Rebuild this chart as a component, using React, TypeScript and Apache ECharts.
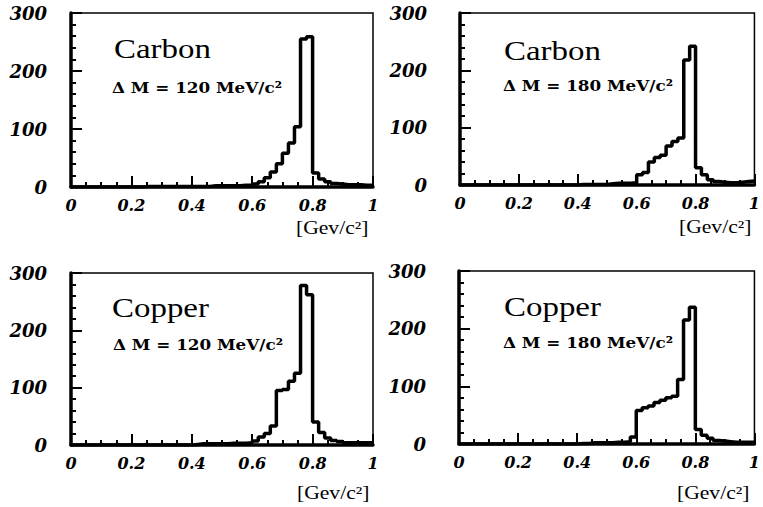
import React, { useEffect, useRef } from "react";
import * as echarts from "echarts";

// bin left edges: 0.00, 0.02, ..., 0.98 (50 bins of width 0.02)
const binWidth = 0.02;
const carbon120 = [
  0, 0, 0, 0, 0, 0, 0, 0, 0, 0,
  0, 0, 1, 1, 1, 1, 1, 1, 1, 1,
  1, 1, 1, 2, 2, 2, 2, 2, 3, 3,
  5, 9, 16, 26, 40, 58, 76, 104, 255, 259,
  24, 14, 9, 6, 5, 4, 4, 4, 3, 3,
];
const carbon180 = [
  0, 0, 0, 0, 0, 0, 0, 0, 0, 0,
  0, 0, 0, 0, 0, 0, 0, 0, 0, 0,
  1, 1, 1, 1, 1, 2, 3, 3, 3, 4,
  18, 22, 40, 48, 52, 68, 76, 82, 218, 242,
  30, 18, 9, 6, 5, 4, 4, 5, 6, 7,
];
const copper120 = [
  0, 0, 0, 0, 0, 0, 0, 0, 0, 0,
  0, 0, 0, 0, 0, 0, 0, 0, 0, 0,
  1, 2, 2, 2, 2, 2, 3, 3, 3, 4,
  7, 14, 20, 33, 95, 97, 111, 125, 278, 262,
  40, 22, 12, 8, 6, 4, 4, 4, 4, 4,
];
const copper180 = [
  0, 0, 0, 0, 0, 0, 0, 0, 0, 0,
  0, 0, 0, 0, 0, 0, 0, 0, 0, 0,
  1, 1, 2, 2, 2, 2, 3, 3, 4, 12,
  58, 63, 66, 72, 76, 80, 83, 112, 215, 237,
  25, 15, 10, 6, 5, 4, 3, 3, 3, 3,
];

const materials = ["Carbon", "Carbon", "Copper", "Copper"];
const deltaLabels = [
  "Δ M = 120 MeV/c²",
  "Δ M = 180 MeV/c²",
  "Δ M = 120 MeV/c²",
  "Δ M = 180 MeV/c²",
];
const unitLabel = "[Gev/c²]";
const histograms = [carbon120, carbon180, copper120, copper180];

const SERIF = "Liberation Serif";
const DSERIF = "DejaVu Serif";

const grids = [
  { left: 71, top: 13, width: 302, height: 174 },
  { left: 460, top: 13, width: 301, height: 172 },
  { left: 71, top: 273, width: 302, height: 172 },
  { left: 459, top: 271, width: 302, height: 173 },
];
const yLabelMargins = [24, 33, 24, 33];
const matPos = [
  [114, 49],
  [504, 51],
  [112, 308],
  [504, 307],
];
const deltaPos = [
  [112, 88],
  [503, 86],
  [113, 345],
  [503, 343],
];
const unitPos = [
  [296, 228],
  [679, 227],
  [297, 493],
  [677, 493],
];

function toSteps(vals: number[]) {
  const pts: number[][] = vals.map((v, i) => [+(i * binWidth).toFixed(2), v]);
  pts.push([1, vals[vals.length - 1]]);
  return pts;
}

export default function App() {
  const ref = useRef<HTMLDivElement>(null);
  useEffect(() => {
    if (!ref.current) return;
    const chart = echarts.init(ref.current, undefined, { renderer: "svg" });
    const graphic: any[] = [];
    for (let i = 0; i < 4; i++) {
      graphic.push({
        type: "text",
        x: matPos[i][0],
        y: matPos[i][1],
        scaleX: 1.22,
        style: {
          text: materials[i],
          fontFamily: SERIF,
          fontSize: 27,
          fill: "#000",
          verticalAlign: "middle",
          align: "left",
        },
      });
      graphic.push({
        type: "text",
        x: deltaPos[i][0],
        y: deltaPos[i][1],
        scaleX: 1.12,
        style: {
          text: deltaLabels[i],
          fontFamily: DSERIF,
          fontWeight: "bold",
          fontSize: 15,
          fill: "#000",
          verticalAlign: "middle",
          align: "left",
        },
      });
      graphic.push({
        type: "text",
        x: unitPos[i][0],
        y: unitPos[i][1],
        scaleX: 1.2,
        style: {
          text: unitLabel,
          fontFamily: SERIF,
          fontSize: 18,
          fill: "#000",
          verticalAlign: "middle",
          align: "left",
        },
      });
    }
    const option: any = {
      animation: false,
      backgroundColor: "#fff",
      textStyle: { fontFamily: SERIF },
      grid: grids.map((g) => ({
        ...g,
        show: true,
        borderColor: "#000",
        borderWidth: 1.5,
        backgroundColor: "transparent",
      })),
      xAxis: grids.map((_, i) => ({
        type: "value",
        gridIndex: i,
        min: 0,
        max: 1,
        interval: 0.2,
        axisLine: { show: true, lineStyle: { color: "#000", width: 3.5 } },
        axisTick: { show: true, inside: true, length: 11, lineStyle: { color: "#000", width: 2 } },
        minorTick: { show: true, splitNumber: 4, length: 5, lineStyle: { color: "#000", width: 2 } },
        splitLine: { show: false },
        minorSplitLine: { show: false },
        axisLabel: {
          fontFamily: DSERIF,
          fontStyle: "italic",
          fontWeight: "bold",
          fontSize: 16,
          color: "#000",
          margin: 10,
        },
      })),
      yAxis: grids.map((_, i) => ({
        type: "value",
        gridIndex: i,
        min: 0,
        max: 300,
        interval: 100,
        axisLine: { show: true, lineStyle: { color: "#000", width: 3.5 } },
        axisTick: { show: true, inside: true, length: 11, lineStyle: { color: "#000", width: 2 } },
        minorTick: { show: true, splitNumber: 5, length: 5, lineStyle: { color: "#000", width: 2 } },
        splitLine: { show: false },
        minorSplitLine: { show: false },
        axisLabel: {
          fontFamily: DSERIF,
          fontStyle: "italic",
          fontWeight: "bold",
          fontSize: 18,
          color: "#000",
          margin: yLabelMargins[i],
        },
      })),
      series: histograms.map((h, i) => ({
        type: "line",
        xAxisIndex: i,
        yAxisIndex: i,
        step: "end",
        symbol: "none",
        clip: true,
        lineStyle: { color: "#000", width: 3.5 },
        data: toSteps(h),
      })),
      graphic,
    };
    chart.setOption(option);
    return () => chart.dispose();
  }, []);
  return (
    <div
      ref={ref}
      style={{ position: "fixed", left: 0, top: 0, width: 763, height: 507, background: "#fff" }}
    />
  );
}
